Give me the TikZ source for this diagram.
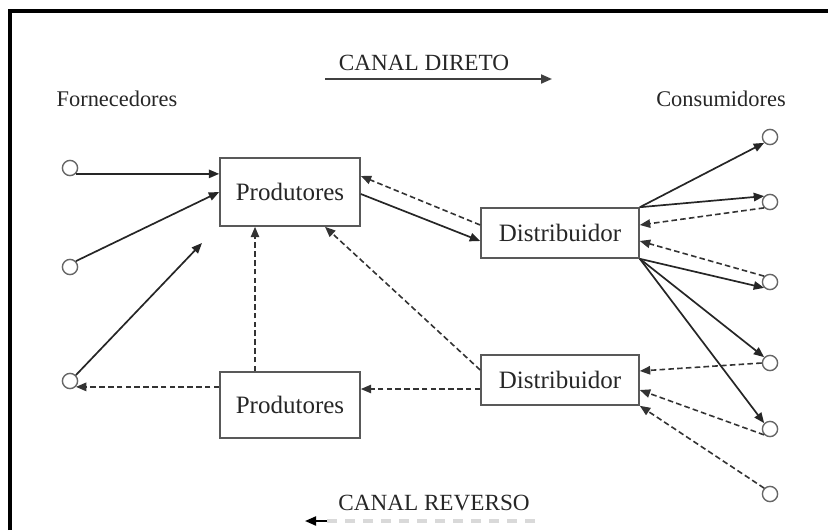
\documentclass[tikz,border=0pt]{standalone}
\usepackage{fontspec}
\setmainfont{Liberation Serif}
\usepackage{tikz}
\usetikzlibrary{positioning}
\usetikzlibrary{arrows.meta}
\usetikzlibrary{calc}
\usepackage{xcolor}

\begin{document}
\begin{tikzpicture}[
		x=0.5pt, y=-0.5pt,
		% Style definitions
		actor/.style={draw=black!65, line width=0.8pt, minimum width=70pt, inner sep=0pt, align=center, font=\fontsize{12.5}{15}\selectfont, text=black!85},
		endpoint/.style={circle, draw=black!60, line width=0.7pt, minimum size=7.6pt, inner sep=0pt},
		grouplabel/.style={font=\fontsize{11.2}{13}\selectfont, align=center, text=black!85},
		arrow/.style={-{Triangle[length=5.2pt, width=4.2pt]}, line width=0.85pt, black!85},
		backarrow/.style={-{Triangle[length=5.2pt, width=4.2pt]}, line width=0.8pt, black!80, dash pattern=on 2.8pt off 1.6pt},
		]
		\useasboundingbox (0,0) rectangle (828,530);

		% === Frame (only top and left edges visible) ===
		\draw[line width=2pt] (10,530) -- (10,11) -- (828,11);

		% === Channel legends ===
		\node[grouplabel, font=\fontsize{11.6}{13}\selectfont] (diretoLabel) at (424,63) {CANAL DIRETO};
		\coordinate (diretoStart) at (325,79);
		\coordinate (diretoEnd) at (552,79);
		\draw[-{Triangle[length=5.5pt, width=4.5pt]}, line width=1pt, black!75] (diretoStart) -- (diretoEnd);

		\node[grouplabel, font=\fontsize{11.6}{13}\selectfont] (reversoLabel) at (434,503) {CANAL REVERSO};
		\coordinate (reversoEnd) at (535,521);
		\coordinate (reversoStart) at (327,521);
		\coordinate (reversoTip) at (305,521);
		\draw[gray!30, line width=1.6pt, dash pattern=on 5pt off 4pt] (reversoEnd) -- (reversoStart);
		\draw[-{Triangle[length=5.5pt, width=4.5pt]}, line width=1pt] (reversoStart) -- (reversoTip);

		% === Group labels ===
		\node[grouplabel] (fornLabel) at (117,99) {Fornecedores};
		\node[grouplabel] (consLabel) at (721,99) {Consumidores};

		% === Boxes ===
		\node[actor, minimum height=34pt] (prodTop) at (290,192) {Produtores};
		\node[actor, minimum height=33pt] (prodBot) at (290,405) {Produtores};
		\node[actor, minimum width=79pt, minimum height=25pt] (distTop) at (560,233) {Distribuidor};
		\node[actor, minimum width=79pt, minimum height=25pt] (distBot) at (560,380) {Distribuidor};

		% === Suppliers (left) and consumers (right) ===
		\node[endpoint] (forn1) at (70,168) {};
		\node[endpoint] (forn2) at (70,267) {};
		\node[endpoint] (forn3) at (70,381) {};

		\node[endpoint] (cons1) at (770,137) {};
		\node[endpoint] (cons2) at (770,202) {};
		\node[endpoint] (cons3) at (770,282) {};
		\node[endpoint] (cons4) at (770,363) {};
		\node[endpoint] (cons5) at (770,429) {};
		\node[endpoint] (cons6) at (770,494) {};

		% === Direct channel ===
		\coordinate (fornTip) at (202,243);
		\draw[arrow] (forn1.south east) -- (forn1.south east -| prodTop.west);
		\draw[arrow] (forn2.north east) -- (prodTop.west);
		\draw[arrow] (forn3.north east) -- (fornTip);
		\draw[arrow] ($(prodTop.east)+(0,2)$) -- ($(distTop.west)+(0,8)$);
		\draw[arrow] (distTop.north east) -- (cons1.south west);
		\draw[arrow] (distTop.north east) -- (cons2.north west);
		\draw[arrow] (distTop.south east) -- (cons3.south west);
		\draw[arrow] (distTop.south east) -- (cons4.north west);
		\draw[arrow] (distTop.south east) -- (cons5.north west);

		% === Reverse channel ===
		\coordinate (distBotOut) at ($(distBot.west)+(0,9)$);
		\draw[backarrow] (cons2.south west) -- ($(distTop.east)+(0,-8)$);
		\draw[backarrow] (cons3.north west) -- ($(distTop.east)+(0,8)$);
		\draw[backarrow] (cons4.west) -- ($(distBot.east)+(0,-9)$);
		\draw[backarrow] (cons5.south west) -- ($(distBot.east)+(0,10)$);
		\draw[backarrow] (cons6.north west) -- (distBot.south east);
		\draw[backarrow] ($(distTop.west)+(0,-8)$) -- ($(prodTop.east)+(0,-16)$);
		\draw[backarrow] ($(distBot.west)+(0,-10)$) -- ($(prodTop.south)+(35,0)$);
		\draw[backarrow] (distBotOut) -- (distBotOut -| prodBot.east);
		\draw[backarrow] ($(prodBot.north)+(-35,0)$) -- ($(prodTop.south)+(-35,0)$);
		\draw[backarrow] (prodBot.west |- forn3.south east) -- (forn3.south east);

	\end{tikzpicture}
\end{document}
